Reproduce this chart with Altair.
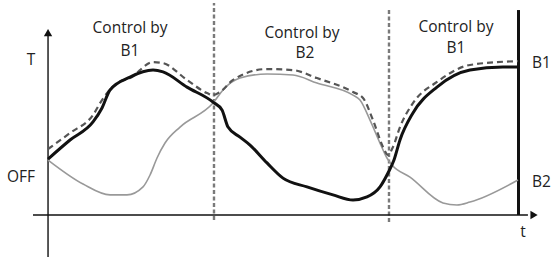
import altair as alt
import pandas as pd

# ---- data (t: time units 0..100 at thick bar, T: temperature units, 0 on t-axis) ----
b1_t = [0, 4.67, 9.55, 11.46, 13.16, 17.41, 22.29, 24.42, 29.51, 35.03, 36.94, 38.22,
        40.76, 42.89, 46.50, 49.89, 54.99, 60.51, 64.76, 67.73, 70.49, 72.19, 73.46,
        74.73, 77.49, 82.59, 89.60, 96.60, 99.79]
b1_T = [27.3, 36.6, 45.4, 52.2, 61.0, 67.3, 70.7, 69.8, 62.4, 55.1, 51.2, 42.9,
        38.0, 34.1, 25.4, 18.0, 13.7, 9.8, 7.3, 8.8, 13.7, 20.5, 26.8,
        36.6, 49.8, 62.4, 70.7, 72.2, 72.2]

b2_t = [0, 7.43, 13.16, 16.77, 20.17, 21.66, 23.14, 24.84, 28.03, 35.03, 37.15, 40.76,
        46.50, 52.02, 57.11, 64.76, 66.24, 68.37, 70.49, 71.97, 73.04, 76.86, 83.86,
        86.84, 89.60, 99.79]
b2_T = [26.8, 15.1, 9.8, 9.8, 13.7, 19.5, 27.8, 35.1, 42.9, 54.6, 61.0, 66.8,
        68.8, 68.3, 64.4, 58.5, 56.1, 46.3, 35.1, 27.8, 24.4, 18.5, 5.9,
        4.9, 6.3, 17.1]

mx_t = [0, 4.67, 9.55, 11.46, 14.65, 17.41, 22.29, 24.42, 29.51, 33.76, 35.03, 36.52,
        39.28, 46.50, 52.02, 57.11, 64.76, 66.88, 69.00, 71.13, 72.19, 73.25, 74.73,
        77.49, 82.59, 89.60, 99.79]
mx_T = [32.2, 40.0, 48.8, 56.1, 64.4, 66.8, 74.6, 74.1, 65.9, 59.5, 58.5, 60.0,
        65.9, 71.2, 70.7, 66.8, 60.0, 57.1, 46.3, 33.2, 29.3, 33.2, 42.9,
        54.6, 64.9, 73.2, 75.1]

switch_t = [35.24, 72.4]
switch_lo = [-2.4, -3.4]
switch_hi = [103.4, 101.0]

center_texts = ["Control by", "B1", "Control by", "B2", "Control by", "B1", "T", "OFF", "t"]
center_tx = [17.41, 17.41, 53.93, 54.56, 86.62, 86.62, -3.61, -5.73, 100.85]
center_ty = [88.8, 77.6, 86.3, 76.6, 89.3, 79.0, 73.2, 16.1, -10.7]

right_texts = ["B1", "B2"]
right_tx = [102.76, 102.76]
right_ty = [71.7, 13.7]

X_DOM = [-10.2, 108.5]
Y_DOM = [-20.5, 104.9]

xs = alt.Scale(domain=X_DOM, nice=False, zero=False)
ys = alt.Scale(domain=Y_DOM, nice=False, zero=False)

def xenc(f="t"):
    return alt.X(f"{f}:Q", scale=xs, axis=None)

def yenc(f="T"):
    return alt.Y(f"{f}:Q", scale=ys, axis=None)

b1 = pd.DataFrame({"t": b1_t, "T": b1_T})
b2 = pd.DataFrame({"t": b2_t, "T": b2_T})
mx = pd.DataFrame({"t": mx_t, "T": mx_T})
sw = pd.DataFrame({"t": switch_t, "T": switch_lo, "T2": switch_hi})
ct = pd.DataFrame({"txt": center_texts, "t": center_tx, "T": center_ty})
rt = pd.DataFrame({"txt": right_texts, "t": right_tx, "T": right_ty})

axes_df = pd.DataFrame({"t": [-3.2, 0], "t2": [101.9, 0], "T": [0, -20.5], "T2": [0, 88.0]})
heads_df = pd.DataFrame({"t": [0, 103.2], "T": [89.0, 0], "shape": ["triangle-up", "triangle-right"]})
bar_df = pd.DataFrame({"t": [99.9], "T": [0], "T2": [100]})

switch_lines = alt.Chart(sw).mark_rule(color="#7a7a7a", strokeWidth=2.4, strokeDash=[4, 2.5]).encode(
    x=xenc(), y=yenc(), y2="T2:Q")

x_axis = alt.Chart(axes_df.iloc[[0]]).mark_rule(color="#111", strokeWidth=1.4).encode(
    x=xenc(), x2="t2:Q", y=yenc())
y_axis = alt.Chart(axes_df.iloc[[1]]).mark_rule(color="#111", strokeWidth=1.4).encode(
    x=xenc(), y=yenc(), y2="T2:Q")
heads = alt.Chart(heads_df).mark_point(filled=True, color="#111", opacity=1, size=70).encode(
    x=xenc(), y=yenc(), shape=alt.Shape("shape:N", scale=None, legend=None))
bar = alt.Chart(bar_df).mark_rule(color="#111", strokeWidth=3).encode(
    x=xenc(), y=yenc(), y2="T2:Q")

l_b2 = alt.Chart(b2).mark_line(color="#999", strokeWidth=1.6, interpolate="monotone").encode(
    x=xenc(), y=yenc())
l_b1 = alt.Chart(b1).mark_line(color="#111", strokeWidth=3, interpolate="monotone").encode(
    x=xenc(), y=yenc())
l_mx = alt.Chart(mx).mark_line(color="#555", strokeWidth=2.2, strokeDash=[6, 4],
                               interpolate="monotone").encode(x=xenc(), y=yenc())

t_center = alt.Chart(ct).mark_text(font="Open Sans", fontSize=15.5, color="#222",
                                   align="center", baseline="alphabetic").encode(
    x=xenc(), y=yenc(), text="txt:N")
t_right = alt.Chart(rt).mark_text(font="Open Sans", fontSize=15.5, color="#222",
                                  align="left", baseline="alphabetic").encode(
    x=xenc(), y=yenc(), text="txt:N")

chart = alt.layer(switch_lines, x_axis, y_axis, heads, bar, l_b2, l_mx, l_b1,
                  t_center, t_right).properties(
    width=559, height=257, autosize=alt.AutoSizeParams(type="none"), padding=0,
    background="white"
).configure_view(strokeWidth=0)

chart.save("out.html", embed_options={"renderer": "svg", "actions": False})
